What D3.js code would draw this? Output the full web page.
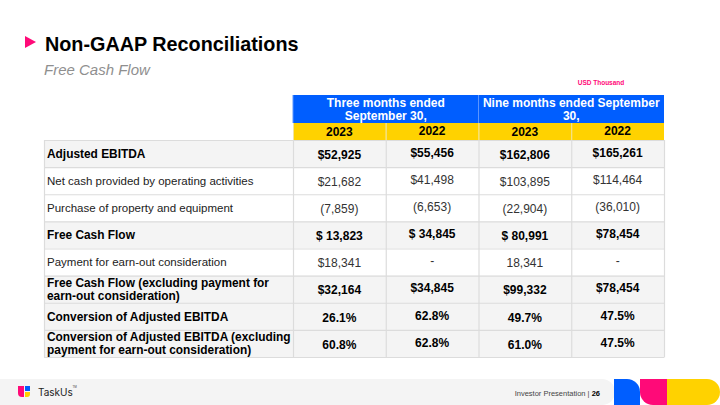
<!DOCTYPE html>
<html><head><meta charset="utf-8">
<script src="https://cdn.jsdelivr.net/npm/d3@7"></script>
<style>
html,body{margin:0;padding:0;background:#fff;}
svg{display:block;font-family:"Liberation Sans",Arial,Helvetica,sans-serif;}
</style></head>
<body>
<svg id="c" width="720" height="405"></svg>
<script>
const title = "Non-GAAP Reconciliations";
const subtitle = "Free Cash Flow";
const unitLabel = "USD Thousand";
const periodHeaders = [["Three months ended", "September 30,"], ["Nine months ended September", "30,"]];
const years = ["2023", "2022", "2023", "2022"];
const rowLabels = [
  ["Adjusted EBITDA"],
  ["Net cash provided by operating activities"],
  ["Purchase of property and equipment"],
  ["Free Cash Flow"],
  ["Payment for earn-out consideration"],
  ["Free Cash Flow (excluding payment for", "earn-out consideration)"],
  ["Conversion of Adjusted EBITDA"],
  ["Conversion of Adjusted EBITDA (excluding", "payment for earn-out consideration)"]
];
const boldRows = [true, false, false, true, false, true, true, true];
const q3_2023 = ["$52,925", "$21,682", "(7,859)", "$ 13,823", "$18,341", "$32,164", "26.1%", "60.8%"];
const q3_2022 = ["$55,456", "$41,498", "(6,653)", "$ 34,845", "-", "$34,845", "62.8%", "62.8%"];
const ytd_2023 = ["$162,806", "$103,895", "(22,904)", "$ 80,991", "18,341", "$99,332", "49.7%", "61.0%"];
const ytd_2022 = ["$165,261", "$114,464", "(36,010)", "$78,454", "-", "$78,454", "47.5%", "47.5%"];
const columns = [q3_2023, q3_2022, ytd_2023, ytd_2022];
const footerText = "Investor Presentation | ";
const pageNo = "26";

const svg = d3.select("#c");
const BLUE = "#005EFF", YELLOW = "#FFD200", PINK = "#FF0A78", GRID = "#dcdcdc", GREYROW = "#f4f4f4";

// Title
svg.append("path").attr("d", "M25,36 L36,42 L25,48 Z").attr("fill", PINK);
svg.append("text").attr("x", 45).attr("y", 50.5).attr("font-size", 19.8).attr("font-weight", "bold").attr("fill", "#000").text(title);
svg.append("text").attr("x", 44).attr("y", 75).attr("font-size", 15).attr("font-style", "italic").attr("fill", "#8f8f8f").text(subtitle);
svg.append("text").attr("x", 601).attr("y", 85).attr("text-anchor", "middle").attr("font-size", 6.5).attr("font-weight", "bold").attr("fill", PINK).text(unitLabel);

// Scales
const tableLeft = 44, dataLeft = 293, tableRight = 664;
const x = d3.scaleBand().domain(d3.range(columns.length)).range([dataLeft, tableRight]);
const y = d3.scaleBand().domain(d3.range(rowLabels.length)).range([140, 357]);
const px = d3.scaleBand().domain(d3.range(periodHeaders.length)).range([dataLeft, tableRight]);

// Period header
const ph = svg.append("g");
ph.selectAll("rect").data(periodHeaders).join("rect")
  .attr("x", (d, i) => px(i)).attr("y", 95).attr("width", px.bandwidth()).attr("height", 28).attr("fill", BLUE);
ph.selectAll("line").data(periodHeaders).join("line")
  .attr("x1", (d, i) => px(i)).attr("x2", (d, i) => px(i)).attr("y1", 95).attr("y2", 123)
  .attr("stroke", "#5b95ff").attr("stroke-width", 1);
periodHeaders.forEach((lines, i) => {
  lines.forEach((t, j) => {
    ph.append("text").attr("x", px(i) + px.bandwidth() / 2).attr("y", 107 + j * 13)
      .attr("text-anchor", "middle").attr("font-size", 12).attr("font-weight", "bold").attr("fill", "#fff").text(t);
  });
});

// Year header
const yh = svg.append("g");
yh.selectAll("rect").data(years).join("rect")
  .attr("x", (d, i) => x(i)).attr("y", 123).attr("width", x.bandwidth()).attr("height", 17).attr("fill", YELLOW);
yh.selectAll("line").data(years).join("line")
  .attr("x1", (d, i) => x(i) + 0.5).attr("x2", (d, i) => x(i) + 0.5).attr("y1", 123).attr("y2", 140)
  .attr("stroke", "#f0e3a0").attr("stroke-width", 1);
yh.selectAll("text").data(years).join("text")
  .attr("x", (d, i) => x(i) + x.bandwidth() / 2).attr("y", (d, i) => i % 2 ? 135 : 136)
  .attr("text-anchor", "middle").attr("font-size", 12).attr("font-weight", "bold").attr("fill", "#000").text(d => d);

// Body rows
const body = svg.append("g");
body.selectAll("rect.row").data(rowLabels).join("rect").attr("class", "row")
  .attr("x", tableLeft).attr("y", (d, i) => y(i)).attr("width", tableRight - tableLeft).attr("height", y.bandwidth())
  .attr("fill", (d, i) => boldRows[i] ? GREYROW : "#fff");

// grid lines horizontal
body.selectAll("line.h").data(d3.range(rowLabels.length + 1)).join("line").attr("class", "h")
  .attr("x1", tableLeft).attr("x2", tableRight)
  .attr("y1", i => (i < rowLabels.length ? y(i) : 357) + 0.5).attr("y2", i => (i < rowLabels.length ? y(i) : 357) + 0.5)
  .attr("stroke", GRID).attr("stroke-width", 1.2);
// vertical
const vx = [tableLeft, ...d3.range(columns.length).map(i => x(i)), tableRight];
body.selectAll("line.v").data(vx).join("line").attr("class", "v")
  .attr("x1", d => d + 0.5).attr("x2", d => d + 0.5).attr("y1", 140).attr("y2", 357.5)
  .attr("stroke", GRID).attr("stroke-width", 1.2);

// labels
rowLabels.forEach((lines, i) => {
  const cy = y(i) + y.bandwidth() / 2;
  const n = lines.length;
  lines.forEach((t, j) => {
    body.append("text").attr("x", 47).attr("y", cy + 4.2 + (j - (n - 1) / 2) * 13.5)
      .attr("font-size", boldRows[i] ? 11.9 : 11.5).attr("font-weight", boldRows[i] ? "bold" : "normal")
      .attr("fill", boldRows[i] ? "#000" : "#222").text(t);
  });
});

// values
columns.forEach((col, c) => {
  body.selectAll("text.v" + c).data(col).join("text").attr("class", "v" + c)
    .attr("x", x(c) + x.bandwidth() / 2)
    .attr("y", (d, i) => y(i) + y.bandwidth() / 2 + (c % 2 ? 3.2 : 5.2))
    .attr("text-anchor", "middle").attr("font-size", 12)
    .attr("font-weight", (d, i) => boldRows[i] ? "bold" : "normal")
    .attr("fill", (d, i) => boldRows[i] ? "#000" : "#333").text(d => d);
});

// Footer
const f = svg.append("g");
f.append("path").attr("d", "M0,379 H602 A13,13 0 0 1 602,405 H0 Z").attr("fill", "#f4f4f4");
// logo
f.append("path").attr("d", "M18,386 H24 V397 H22 A4,4 0 0 1 18,393 Z").attr("fill", PINK);
f.append("rect").attr("x", 25).attr("y", 386).attr("width", 5).attr("height", 5).attr("fill", BLUE);
f.append("path").attr("d", "M25,392 H30 V394 A3,3 0 0 1 27,397 H25 Z").attr("fill", YELLOW);
f.append("text").attr("x", 38).attr("y", 396).attr("font-size", 10).attr("font-family", "Inter, 'Liberation Sans', sans-serif").attr("fill", "#222").text("TaskUs");
f.append("text").attr("x", 72.5).attr("y", 388).attr("font-size", 3).attr("fill", "#444").text("TM");
const ft = f.append("text").attr("x", 600).attr("y", 396).attr("text-anchor", "end").attr("font-size", 7.5).attr("fill", "#444");
ft.append("tspan").text(footerText);
ft.append("tspan").attr("font-weight", "bold").attr("fill", "#000").text(pageNo);
// brand shapes
f.append("path").attr("d", "M614,379 H627 A13,13 0 0 1 640,392 V405 H614 Z").attr("fill", BLUE);
f.append("path").attr("d", "M640,379 H667 V405 H653 A13,13 0 0 1 640,392 Z").attr("fill", PINK);
f.append("path").attr("d", "M667,379 H707 A13,13 0 0 1 707,405 H667 Z").attr("fill", YELLOW);
</script>
</body></html>
